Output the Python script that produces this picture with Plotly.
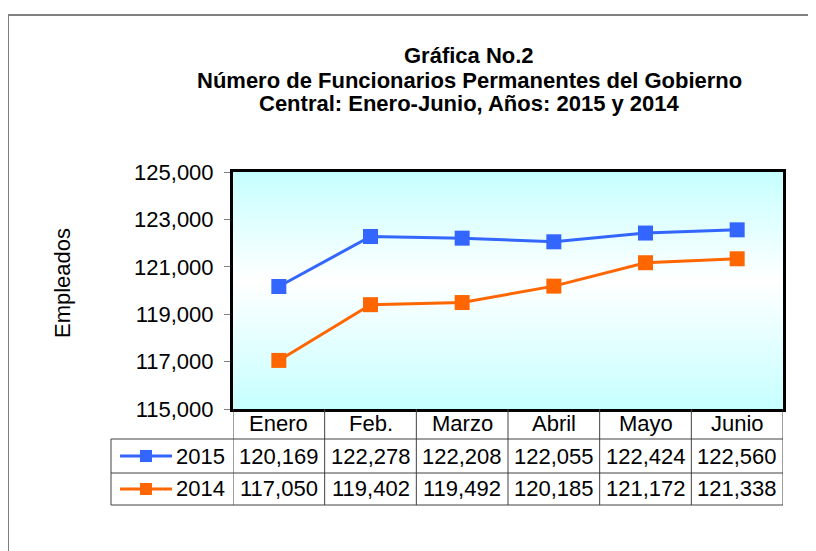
import plotly.graph_objects as go

# ---- data ----
months = ["Enero", "Feb.", "Marzo", "Abril", "Mayo", "Junio"]
series_names = ["2015", "2014"]
values_2015 = [120169, 122278, 122208, 122055, 122424, 122560]
values_2014 = [117050, 119402, 119492, 120185, 121172, 121338]
y_ticks = [115000, 117000, 119000, 121000, 123000, 125000]
title_lines = ["Gráfica No.2",
               "Número de Funcionarios Permanentes del Gobierno",
               "Central: Enero-Junio, Años: 2015 y 2014"]
y_title = "Empleados"

# ---- layout geometry (page pixel coords; page has 8px body margin) ----
OFF = 8
WIDTH, HEIGHT = 816 - OFF, 551 - OFF
L, R, T, B = 233, 783, 172, 409  # plot area in page coords
PW, PH = R - L, B - T


def px2x(px):
    return (px - L) / PW


def px2y(py):
    return (B - py) / PH


FONT = "Liberation Sans, Arial, sans-serif"
FS = 22
BLUE = "#3366ff"
ORANGE = "#ff6600"
GRID = "#404040"

xs = list(range(len(months)))

fig = go.Figure()

# gradient background of plot area
fig.add_trace(go.Scatter(
    x=[-0.5, len(months) - 0.5, len(months) - 0.5, -0.5, -0.5],
    y=[y_ticks[0], y_ticks[0], y_ticks[-1], y_ticks[-1], y_ticks[0]],
    mode="lines", line=dict(width=0), fill="toself",
    fillgradient=dict(type="vertical",
                      colorscale=[[0, "#c6ffff"], [0.54, "#ffffff"], [1, "#c6ffff"]]),
    hoverinfo="skip", showlegend=False))

for name, vals, col in [(series_names[0], values_2015, BLUE), (series_names[1], values_2014, ORANGE)]:
    fig.add_trace(go.Scatter(
        x=xs, y=vals, name=name, mode="lines+markers",
        line=dict(color=col, width=3),
        marker=dict(symbol="square", size=15, color=col),
        showlegend=False))

shapes = []
annotations = []

# outer chart frame
shapes.append(dict(type="rect", xref="paper", yref="paper",
                   x0=px2x(8), y0=px2y(15), x1=px2x(840), y1=px2y(580),
                   line=dict(color="#808080", width=2), layer="below"))

# table lines
row_lines = [439, 473, 505]
for py in row_lines:
    shapes.append(dict(type="line", xref="paper", yref="paper",
                       x0=px2x(111), x1=1, y0=px2y(py), y1=px2y(py),
                       line=dict(color=GRID, width=1)))
for i in range(len(months) + 1):
    shapes.append(dict(type="line", xref="x", yref="paper",
                       x0=i - 0.5, x1=i - 0.5, y0=0, y1=px2y(505),
                       line=dict(color=GRID, width=1)))
shapes.append(dict(type="line", xref="paper", yref="paper",
                   x0=px2x(111), x1=px2x(111), y0=px2y(439), y1=px2y(505),
                   line=dict(color=GRID, width=1)))

# header labels
for i, m in enumerate(months):
    annotations.append(dict(text=m, x=i, xref="x", y=px2y(423), yref="paper",
                            showarrow=False, xanchor="center", yanchor="middle",
                            font=dict(family=FONT, size=FS, color="black")))

# data rows
rows = [(series_names[0], values_2015, BLUE, 456), (series_names[1], values_2014, ORANGE, 489)]
for name, vals, col, py in rows:
    for i, v in enumerate(vals):
        annotations.append(dict(text=f"{v:,}", x=i, xref="x", y=px2y(py), yref="paper",
                                showarrow=False, xanchor="center", yanchor="middle",
                                font=dict(family=FONT, size=FS, color="black")))
    annotations.append(dict(text=name, x=px2x(227), xref="paper", y=px2y(py), yref="paper",
                            showarrow=False, xanchor="right", yanchor="middle",
                            font=dict(family=FONT, size=FS, color="black")))
    shapes.append(dict(type="line", xref="paper", yref="paper",
                       x0=px2x(120), x1=px2x(172), y0=px2y(py), y1=px2y(py),
                       line=dict(color=col, width=3)))
    shapes.append(dict(type="rect", xref="paper", yref="paper",
                       x0=px2x(140), x1=px2x(152), y0=px2y(py + 6), y1=px2y(py - 6),
                       line=dict(color=col, width=0), fillcolor=col))

# title lines
for txt, py in zip(title_lines, [55, 80, 104]):
    annotations.append(dict(text=f"<b>{txt}</b>", x=px2x(469), xref="paper", y=px2y(py), yref="paper",
                            showarrow=False, xanchor="center", yanchor="middle",
                            font=dict(family=FONT, size=FS, color="black")))

# y axis title
annotations.append(dict(text=y_title, x=px2x(62), xref="paper", y=px2y(283), yref="paper",
                        showarrow=False, xanchor="center", yanchor="middle", textangle=-90,
                        font=dict(family=FONT, size=FS, color="black")))

fig.update_layout(
    width=WIDTH, height=HEIGHT,
    margin=dict(l=L - OFF, r=816 - R, t=T - OFF, b=551 - B, pad=0),
    paper_bgcolor="white", plot_bgcolor="rgba(0,0,0,0)",
    shapes=shapes, annotations=annotations,
    xaxis=dict(range=[-0.5, len(months) - 0.5], showticklabels=False, ticks="",
               showgrid=False, zeroline=False, showline=True, mirror=True,
               linecolor="black", linewidth=3, fixedrange=True),
    yaxis=dict(range=[y_ticks[0], y_ticks[-1]], tickvals=y_ticks, tickformat=",",
               ticks="outside", ticklen=6, tickcolor="#808080", tickwidth=1,
               ticklabelstandoff=6,
               tickfont=dict(family=FONT, size=FS, color="black"),
               showgrid=False, zeroline=False, showline=True, mirror=True,
               linecolor="black", linewidth=3, fixedrange=True),
    showlegend=False,
)

fig.write_html("out.html")
